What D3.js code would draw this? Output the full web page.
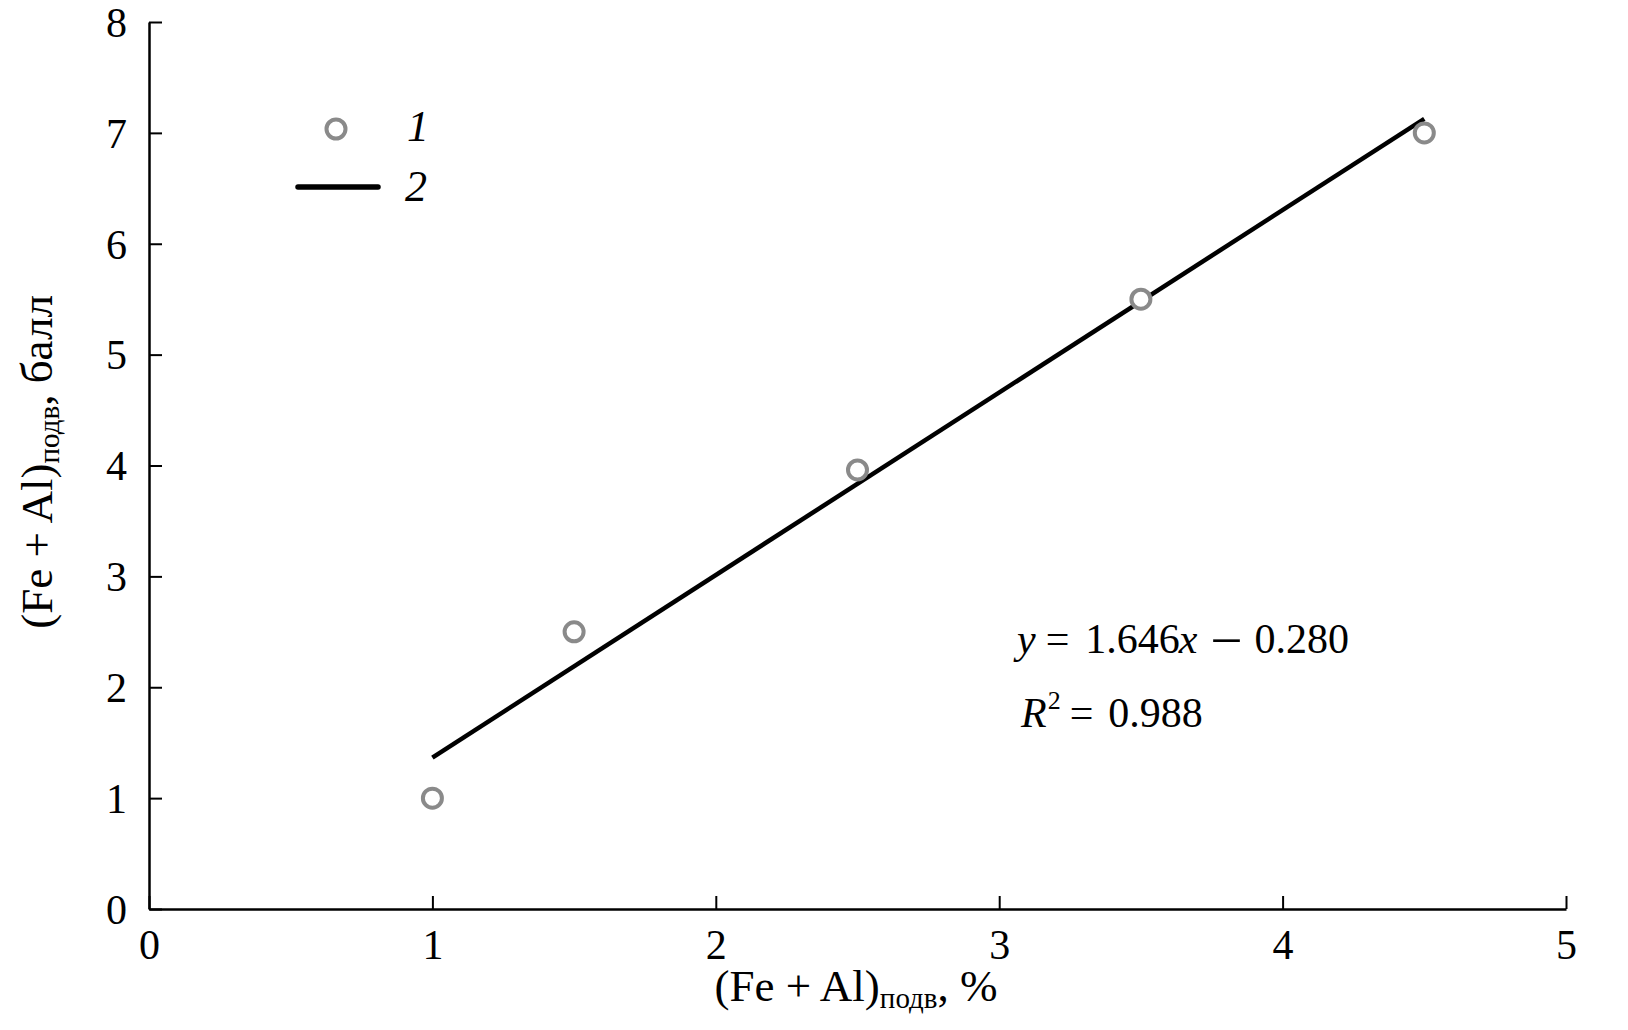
<!DOCTYPE html>
<html>
<head>
<meta charset="utf-8">
<script src="https://cdn.jsdelivr.net/npm/d3@7"></script>
<style>
  body { margin: 0; background: #fff; }
  text { font-family: "Liberation Serif", "Times New Roman", serif; fill: #000; }
</style>
</head>
<body>
<div id="chart"></div>
<script>
// data
var xValues = [1, 1.5, 2.5, 3.5, 4.5];
var yValues = [1, 2.5, 3.96, 5.5, 7.0];
var xTicks = [0, 1, 2, 3, 4, 5];
var yTicks = [0, 1, 2, 3, 4, 5, 6, 7, 8];
var slope = 1.646;
var intercept = -0.280;
var rSquared = 0.988;
var fitRange = [1, 4.5];
var legendLabels = ["1", "2"];

var svgWidth = 1628;
var svgHeight = 1030;
var margin = { top: 22, right: 62, bottom: 121, left: 149 };
var chartWidth = svgWidth - margin.left - margin.right;
var chartHeight = svgHeight - margin.top - margin.bottom;

var svg = d3.select("#chart")
  .append("svg")
  .attr("width", svgWidth)
  .attr("height", svgHeight);

var chartGroup = svg.append("g")
  .attr("transform", `translate(${margin.left}, ${margin.top})`);

var x = d3.scaleLinear().domain([0, 5]).range([0, chartWidth]);
var y = d3.scaleLinear().domain([0, 8]).range([chartHeight, 0]);

// axes with ticks pointing inward
var bottomAxis = d3.axisBottom(x).tickValues(xTicks).tickFormat(d3.format("d"))
  .tickSize(-13).tickPadding(20).tickSizeOuter(0);
var leftAxis = d3.axisLeft(y).tickValues(yTicks).tickFormat(d3.format("d"))
  .tickSize(-13).tickPadding(22).tickSizeOuter(0);

var xg = chartGroup.append("g")
  .attr("transform", "translate(0," + chartHeight + ")")
  .call(bottomAxis);
var yg = chartGroup.append("g").call(leftAxis);

[xg, yg].forEach(function(g) {
  g.attr("font-family", "'Liberation Serif', serif");
  g.select(".domain").attr("stroke", "#000").attr("stroke-width", 2.5);
  g.selectAll(".tick line").attr("stroke", "#000").attr("stroke-width", 2);
  g.selectAll(".tick text")
    .style("font-size", "42px")
    .attr("fill", "#000");
});
xg.selectAll(".tick text").attr("dy", "0.72em");
yg.selectAll(".tick text").attr("dy", "0.34em");

// regression line
chartGroup.append("line")
  .attr("x1", x(fitRange[0]))
  .attr("y1", y(slope * fitRange[0] + intercept))
  .attr("x2", x(fitRange[1]))
  .attr("y2", y(slope * fitRange[1] + intercept))
  .attr("stroke", "#000")
  .attr("stroke-width", 4.5);

// points
var pts = xValues.map(function(v, i) { return { x: v, y: yValues[i] }; });
chartGroup.selectAll("circle.pt")
  .data(pts)
  .enter()
  .append("circle")
  .attr("class", "pt")
  .attr("cx", d => x(d.x))
  .attr("cy", d => y(d.y))
  .attr("r", 9.5)
  .attr("fill", "#fff")
  .attr("stroke", "#8a8a8a")
  .attr("stroke-width", 4);

// legend
svg.append("circle")
  .attr("cx", 336).attr("cy", 129).attr("r", 9.5)
  .attr("fill", "#fff").attr("stroke", "#8a8a8a").attr("stroke-width", 4);
svg.append("line")
  .attr("x1", 298).attr("x2", 378).attr("y1", 187).attr("y2", 187)
  .attr("stroke", "#000").attr("stroke-width", 5.5).attr("stroke-linecap", "round");
svg.append("text").attr("x", 407).attr("y", 141)
  .style("font-size", "44px").style("font-style", "italic").text(legendLabels[0]);
svg.append("text").attr("x", 405).attr("y", 201)
  .style("font-size", "44px").style("font-style", "italic").text(legendLabels[1]);

// equation
var eq = svg.append("text").attr("x", 1017).attr("y", 653).style("font-size", "42px");
eq.append("tspan").style("font-style", "italic").text("y");
eq.append("tspan").attr("dx", 10).text("=");
eq.append("tspan").attr("dx", 16).text(slope.toFixed(3));
eq.append("tspan").attr("dx", -1).style("font-style", "italic").text("x");
eq.append("tspan").attr("dx", 16).style("font-size", "52px").text("\u2013");
eq.append("tspan").attr("dx", 15).text(Math.abs(intercept).toFixed(3));

var r2 = svg.append("text").attr("x", 1021).attr("y", 727).style("font-size", "42px");
r2.append("tspan").style("font-style", "italic").text("R");
r2.append("tspan").attr("dx", 1).attr("dy", -18).style("font-size", "26px").text("2");
r2.append("tspan").attr("dx", 9).attr("dy", 18).text("=");
r2.append("tspan").attr("dx", 15).text(rSquared.toFixed(3));

// x label
var xl = svg.append("text")
  .attr("x", 856).attr("y", 1001)
  .style("text-anchor", "middle")
  .style("font-size", "45px");
xl.append("tspan").text("(Fe + Al)");
xl.append("tspan").attr("dy", 7).style("font-size", "29px").text("подв");
xl.append("tspan").attr("dy", -7).text(", %");

// y label
var yl = svg.append("text")
  .attr("transform", "translate(52," + 462 + ") rotate(-90)")
  .style("text-anchor", "middle")
  .style("font-size", "45px");
yl.append("tspan").text("(Fe + Al)");
yl.append("tspan").attr("dy", 7).style("font-size", "29px").text("подв");
yl.append("tspan").attr("dy", -7).text(", балл");
</script>
</body>
</html>
